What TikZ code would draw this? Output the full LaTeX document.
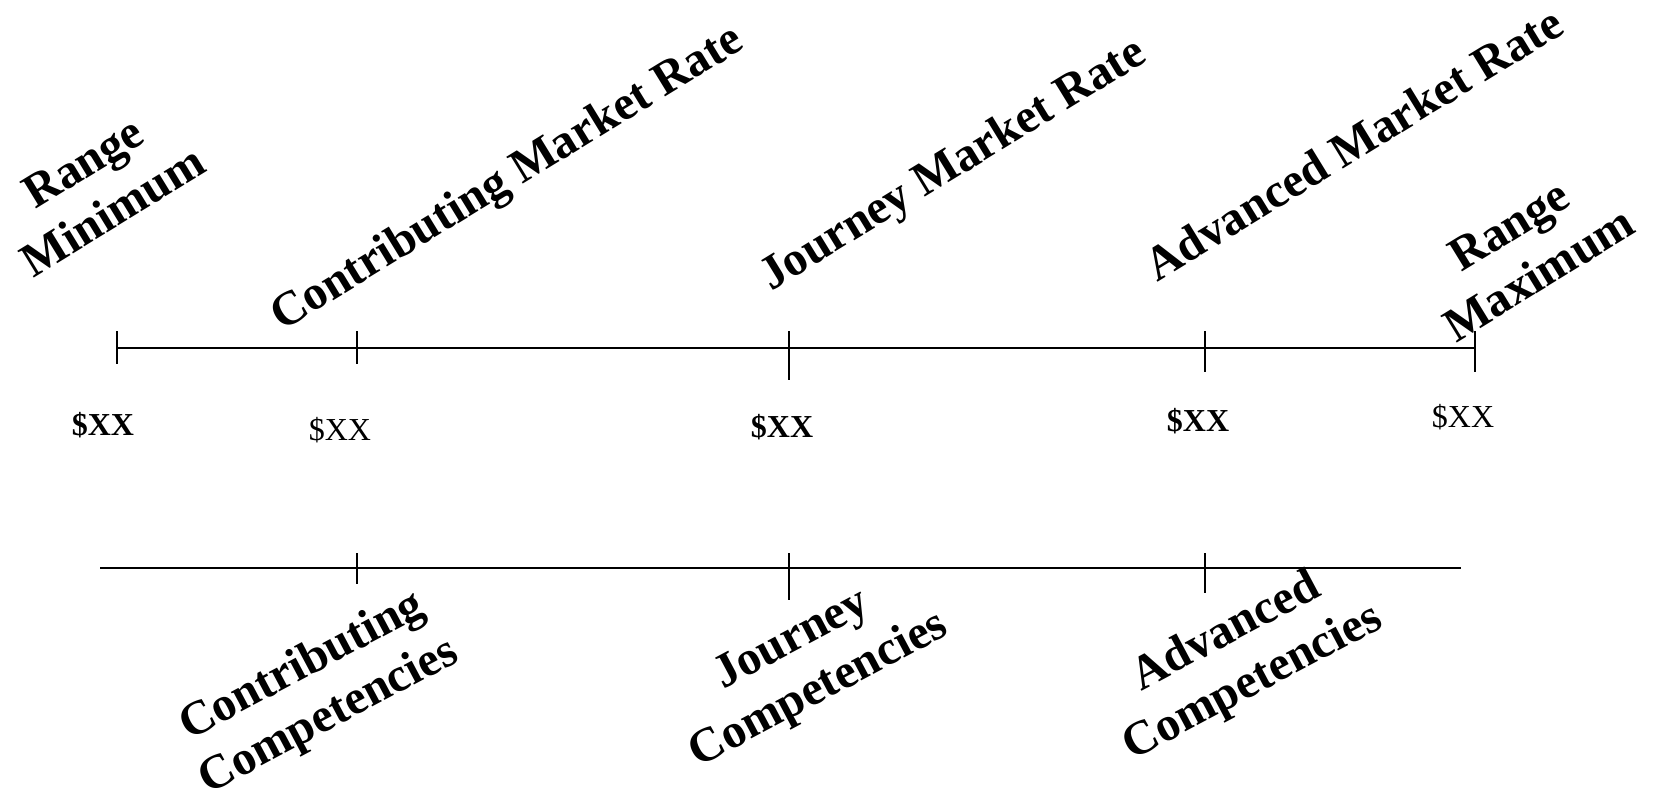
\documentclass[tikz,border=0pt]{standalone}
\usepackage{fontspec}
\setmainfont{Liberation Serif}
\begin{document}
\begin{tikzpicture}[x=1pt,y=-1pt,
  axis/.style={line width=2pt, black},
  tickmark/.style={line width=2pt, black},
  lbl/.style={font=\bfseries\fontsize{48}{57}\selectfont, inner sep=0pt, align=center},
  lvl/.style={lbl, rotate=31.5},
  comp/.style={lbl, rotate=28},
  amt/.style={font=\fontsize{32}{38}\selectfont, inner sep=0pt, anchor=base},
  amtb/.style={amt, font=\bfseries\fontsize{32}{38}\selectfont}]
\useasboundingbox (0,0) rectangle (1656,798);

% pay range axis
\coordinate (a0) at (117,348);
\coordinate (a1) at (357,348);
\coordinate (a2) at (789,348);
\coordinate (a3) at (1205,348);
\coordinate (a4) at (1475,348);
\draw[axis] (a0) -- (a4);
\draw[tickmark] (a0) ++(0,-17) -- ++(0,33);
\draw[tickmark] (a1) ++(0,-17) -- ++(0,33);
\draw[tickmark] (a2) ++(0,-17) -- ++(0,49);
\draw[tickmark] (a3) ++(0,-17) -- ++(0,41);
\draw[tickmark] (a4) ++(0,-17) -- ++(0,41);

% competency axis
\coordinate (b0) at (100,568);
\coordinate (b1) at (357,568);
\coordinate (b2) at (789,568);
\coordinate (b3) at (1205,568);
\coordinate (b4) at (1461,568);
\draw[axis] (b0) -- (b4);
\draw[tickmark] (b1) ++(0,-15) -- ++(0,31);
\draw[tickmark] (b2) ++(0,-15) -- ++(0,47);
\draw[tickmark] (b3) ++(0,-15) -- ++(0,40);

% market rate labels
\node[lvl] (rmin) at (98,187) {Range\\Minimum};
\node[lvl, anchor=base west] (cmr) at (282,332) {Contributing Market Rate};
\node[lvl, anchor=base west] (jmr) at (771,292) {Journey Market Rate};
\node[lvl, anchor=base west] (amr) at (1157,283) {Advanced Market Rate};
\node[lvl] (rmax) at (1524,250) {Range\\Maximum};

% amounts
\node[amtb] (v0) at (103,435) {\$XX};
\node[amt]  (v1) at (340,440) {\$XX};
\node[amtb] (v2) at (782,437) {\$XX};
\node[amtb] (v3) at (1198,431) {\$XX};
\node[amt]  (v4) at (1463,427) {\$XX};

% competency labels
\node[comp] (cc) at (316,692) {Contributing\\Competencies};
\node[comp] (jc) at (806,666) {Journey\\Competencies};
\node[comp] (ac) at (1240,658) {Advanced\\Competencies};
\end{tikzpicture}
\end{document}
